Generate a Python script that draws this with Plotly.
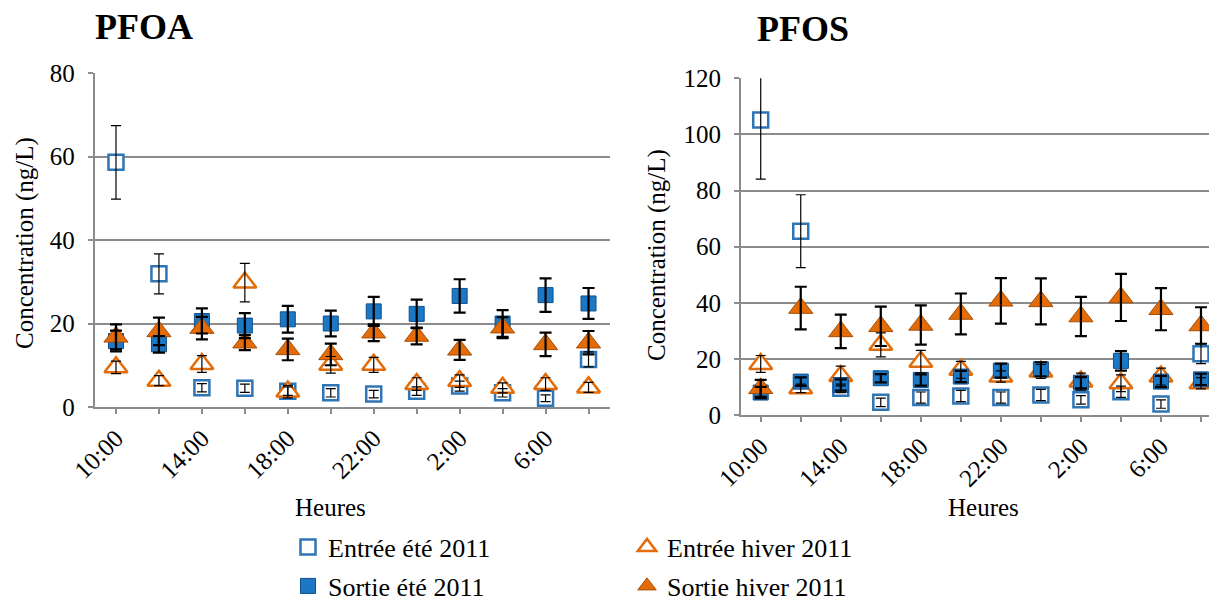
import plotly.graph_objects as go

# ---------------- data ----------------
hours = ["10:00", "12:00", "14:00", "16:00", "18:00", "20:00",
         "22:00", "0:00", "2:00", "4:00", "6:00", "8:00"]
tick_labels = ["10:00", "", "14:00", "", "18:00", "", "22:00", "", "2:00", "", "6:00", ""]

series_names = ["Entrée été 2011", "Entrée hiver 2011", "Sortie été 2011", "Sortie hiver 2011"]

# PFOA (ng/L) and error (+/-)
pfoa_entree_ete = [58.6, 31.9, 4.6, 4.5, 3.8, 3.4, 3.1, 3.8, 5.0, 3.4, 2.1, 11.4]
pfoa_entree_ete_err = [8.8, 4.8, 1.0, 1.0, 1.0, 1.0, 0.9, 1.0, 1.2, 1.0, 0.8, 1.8]
pfoa_entree_hiver = [9.5, 6.3, 10.3, 29.8, 3.7, 10.1, 10.1, 5.5, 6.2, 4.6, 5.5, 4.7]
pfoa_entree_hiver_err = [1.5, 1.2, 2.0, 4.6, 1.5, 2.0, 1.8, 1.5, 1.5, 1.2, 1.5, 1.2]
pfoa_sortie_ete = [15.8, 15.0, 20.6, 19.5, 21.0, 20.0, 22.9, 22.3, 26.6, 20.0, 26.8, 24.8]
pfoa_sortie_ete_err = [2.5, 2.0, 3.0, 3.0, 3.2, 3.1, 3.5, 3.4, 4.0, 3.2, 4.0, 3.7]
pfoa_sortie_hiver = [16.8, 18.1, 18.9, 15.4, 13.8, 12.6, 17.8, 17.0, 13.7, 19.0, 15.0, 15.4]
pfoa_sortie_hiver_err = [3.0, 3.3, 2.7, 1.8, 2.6, 2.6, 2.0, 2.0, 2.4, 2.5, 2.8, 2.8]

# PFOS (ng/L) and error (+/-)
pfos_entree_ete = [105.1, 65.5, 9.5, 4.5, 6.2, 6.8, 6.2, 7.1, 5.4, 8.3, 3.9, 21.8]
pfos_entree_ete_err = [21.0, 13.0, 1.5, 1.5, 2.0, 2.0, 2.0, 2.0, 1.5, 2.0, 1.5, 3.5]
pfos_entree_hiver = [18.2, 9.5, 13.9, 25.0, 19.0, 16.1, 13.7, 15.5, 11.9, 11.3, 13.7, 11.3]
pfos_entree_hiver_err = [3.0, 1.5, 3.5, 4.3, 4.0, 3.0, 2.0, 2.5, 3.0, 3.0, 3.0, 2.0]
pfos_sortie_ete = [8.0, 11.9, 10.7, 13.1, 12.5, 13.7, 15.8, 16.3, 11.5, 19.3, 11.9, 12.7]
pfos_sortie_ete_err = [2.0, 1.5, 2.0, 1.5, 2.0, 2.0, 2.5, 2.5, 2.0, 3.5, 2.0, 2.0]
pfos_sortie_hiver = [9.5, 38.1, 29.8, 31.6, 32.1, 36.0, 40.7, 40.5, 35.1, 41.9, 37.7, 31.9]
pfos_sortie_hiver_err = [3.0, 7.6, 6.0, 7.0, 7.0, 7.3, 8.1, 8.2, 7.0, 8.4, 7.5, 6.5]

# ---------------- styles ----------------
FONT = "Liberation Serif, Times New Roman, Times, serif"
BLUE = "#2E75B6"
ORANGE = "#E36C09"
GRID = "#8C8C8C"

styles = {
    "Entrée été 2011": dict(symbol="square", size=15, color="white", line=dict(color=BLUE, width=2.5)),
    "Entrée hiver 2011": dict(symbol="triangle-up", size=20, color="white", line=dict(color=ORANGE, width=2.5)),
    "Sortie été 2011": dict(symbol="square", size=15, color="#1C78C4", line=dict(color="#0F4F8C", width=1)),
    "Sortie hiver 2011": dict(symbol="triangle-up", size=21, color=ORANGE, line=dict(color="#A84E06", width=1)),
}
err_thick = {"Entrée été 2011": 1.2, "Entrée hiver 2011": 1.2, "Sortie été 2011": 2.2, "Sortie hiver 2011": 2.2}
err_w = {"Entrée été 2011": 5, "Entrée hiver 2011": 5, "Sortie été 2011": 6, "Sortie hiver 2011": 6}
legend_of = {"Entrée été 2011": "legend", "Entrée hiver 2011": "legend",
             "Sortie été 2011": "legend2", "Sortie hiver 2011": "legend2"}

xi = list(range(len(hours)))

panels = [
    ("x", "y", [pfoa_entree_ete, pfoa_entree_hiver, pfoa_sortie_ete, pfoa_sortie_hiver],
     [pfoa_entree_ete_err, pfoa_entree_hiver_err, pfoa_sortie_ete_err, pfoa_sortie_hiver_err], True),
    ("x2", "y2", [pfos_entree_ete, pfos_entree_hiver, pfos_sortie_ete, pfos_sortie_hiver],
     [pfos_entree_ete_err, pfos_entree_hiver_err, pfos_sortie_ete_err, pfos_sortie_hiver_err], False),
]

fig = go.Figure()
for xa, ya, vals, errs, show in panels:
    for name, v in zip(series_names, vals):
        fig.add_trace(go.Scatter(
            x=xi, y=v, mode="markers", name=name, xaxis=xa, yaxis=ya,
            marker=styles[name], showlegend=show, legend=legend_of[name],
            hoverinfo="skip"))
    for name, v, e in zip(series_names, vals, errs):
        fig.add_trace(go.Scatter(
            x=xi, y=v, mode="markers", xaxis=xa, yaxis=ya, showlegend=False,
            marker=dict(size=1, opacity=0),
            error_y=dict(type="data", array=e, visible=True, color="black",
                         thickness=err_thick[name], width=err_w[name]),
            hoverinfo="skip"))

W, H = 1209, 601
def px_x(p): return p / W
def px_y(p): return 1 - p / H

axis_common = dict(showline=True, linecolor=GRID, linewidth=1.5,
                   ticks="outside", ticklen=5, tickcolor=GRID, tickwidth=1.5,
                   tickfont=dict(family=FONT, size=25, color="black"),
                   zeroline=False, automargin=False)

legend_common = dict(orientation="h", xref="container", yref="container",
                     xanchor="left", yanchor="middle",
                     font=dict(family=FONT, size=26, color="black"),
                     entrywidth=294, entrywidthmode="pixels", bgcolor="rgba(0,0,0,0)",
                     itemsizing="trace")

fig.update_layout(
    width=W, height=H, margin=dict(l=0, r=0, t=0, b=0, autoexpand=False),
    paper_bgcolor="white", plot_bgcolor="white",
    font=dict(family=FONT, color="black"),
    xaxis=dict(domain=[px_x(94.5), px_x(610)], range=[-0.5, 11.5],
               tickvals=xi, ticktext=tick_labels, tickangle=-45,
               showgrid=False, anchor="y", **axis_common),
    yaxis=dict(domain=[px_y(407), px_y(73)], range=[0, 80], dtick=20,
               showgrid=True, gridcolor=GRID, gridwidth=1.5,
               anchor="x", ticklabelstandoff=8, **axis_common),
    xaxis2=dict(domain=[px_x(740.7), 1.0], range=[-0.5, 11.2],
                tickvals=xi, ticktext=tick_labels, tickangle=-45,
                showgrid=False, anchor="y2", **axis_common),
    yaxis2=dict(domain=[px_y(415), px_y(78.3)], range=[0, 120], dtick=20,
                showgrid=True, gridcolor=GRID, gridwidth=1.5,
                anchor="x2", ticklabelstandoff=8, **axis_common),
    legend=dict(x=px_x(288), y=px_y(547), **legend_common),
    legend2=dict(x=px_x(288), y=px_y(586), **legend_common),
    showlegend=True,
)

annotations = [
    dict(text="<b>PFOA</b>", x=px_x(144), y=px_y(27), font=dict(size=36)),
    dict(text="<b>PFOS</b>", x=px_x(803), y=px_y(29), font=dict(size=36)),
    dict(text="Concentration (ng/L)", x=px_x(25), y=px_y(243), textangle=-90, font=dict(size=25)),
    dict(text="Concentration (ng/L)", x=px_x(657), y=px_y(255), textangle=-90, font=dict(size=25)),
    dict(text="Heures", x=px_x(330), y=px_y(507), font=dict(size=25)),
    dict(text="Heures", x=px_x(983), y=px_y(507), font=dict(size=25)),
]
for a in annotations:
    a.update(xref="paper", yref="paper", xanchor="center", yanchor="middle", showarrow=False)
    a["font"] = dict(family=FONT, color="black", **a["font"])
fig.update_layout(annotations=annotations)

fig.write_html("out.html", config={"displayModeBar": False})

# remove the browser's default page margin so the figure sits at the window's corner
with open("out.html", encoding="utf-8") as f:
    page = f.read()
page = page.replace("<body>", '<body style="margin:0;overflow:hidden">', 1)
with open("out.html", "w", encoding="utf-8") as f:
    f.write(page)
